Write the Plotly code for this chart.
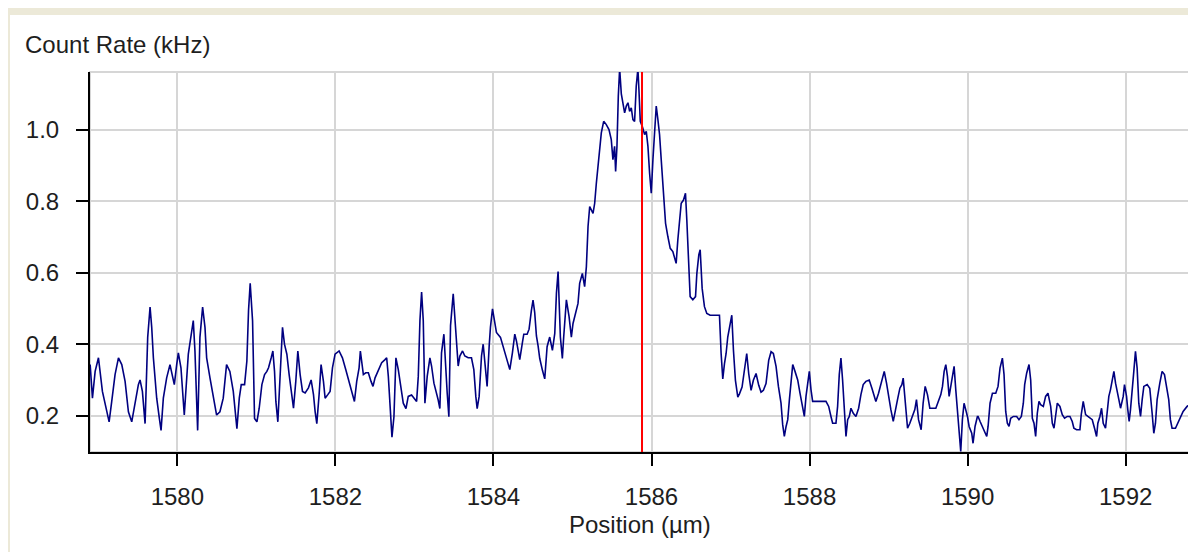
import plotly.graph_objects as go

# ---------------- data ----------------
position_um = [
    1578.897, 1578.926, 1578.960, 1579.002, 1579.052, 1579.107, 1579.137, 1579.170, 1579.212, 1579.255,
    1579.297, 1579.339, 1579.381, 1579.423, 1579.465, 1579.507, 1579.528, 1579.558, 1579.592, 1579.625,
    1579.655, 1579.676, 1579.697, 1579.739, 1579.773, 1579.794, 1579.823, 1579.865, 1579.907, 1579.928,
    1579.962, 1579.992, 1580.013, 1580.046, 1580.088, 1580.139, 1580.181, 1580.202, 1580.223, 1580.257,
    1580.286, 1580.320, 1580.350, 1580.371, 1580.413, 1580.455, 1580.497, 1580.539, 1580.581, 1580.623,
    1580.665, 1580.708,
    1580.754, 1580.784, 1580.809, 1580.851, 1580.880, 1580.901, 1580.922, 1580.952, 1580.977, 1581.007,
    1581.036, 1581.070, 1581.104, 1581.133, 1581.154, 1581.188, 1581.209, 1581.230, 1581.247, 1581.272,
    1581.289, 1581.314, 1581.331, 1581.356, 1581.386, 1581.415, 1581.440, 1581.470, 1581.499, 1581.525,
    1581.554, 1581.584, 1581.617, 1581.659, 1581.693, 1581.723, 1581.744, 1581.765, 1581.794, 1581.819,
    1581.849, 1581.870, 1581.904, 1581.933, 1581.963, 1581.996, 1582.047, 1582.089, 1582.131, 1582.173,
    1582.207, 1582.241, 1582.270, 1582.300, 1582.316, 1582.333, 1582.354, 1582.384, 1582.417, 1582.451,
    1582.476, 1582.502, 1582.535, 1582.586, 1582.628,
    1582.649, 1582.670, 1582.699, 1582.716, 1582.741, 1582.766, 1582.796, 1582.825, 1582.859, 1582.893,
    1582.922, 1582.964, 1583.006, 1583.028, 1583.049, 1583.070, 1583.091, 1583.112, 1583.133, 1583.162,
    1583.196, 1583.217, 1583.247, 1583.272, 1583.301, 1583.322, 1583.343, 1583.373, 1583.398, 1583.415,
    1583.436, 1583.457, 1583.491, 1583.512, 1583.533, 1583.554, 1583.575, 1583.609, 1583.638, 1583.680,
    1583.722, 1583.752, 1583.777, 1583.794, 1583.819, 1583.849, 1583.870, 1583.891, 1583.920, 1583.946,
    1583.962, 1583.988, 1584.004, 1584.038, 1584.089, 1584.122, 1584.156, 1584.186, 1584.207, 1584.240,
    1584.270, 1584.291, 1584.312, 1584.333, 1584.367, 1584.384, 1584.426, 1584.451, 1584.480, 1584.501,
    1584.522, 1584.544, 1584.565,
    1584.586, 1584.620, 1584.649, 1584.679, 1584.712, 1584.746, 1584.776, 1584.797, 1584.818, 1584.847,
    1584.872, 1584.889, 1584.923, 1584.957, 1584.986, 1585.007, 1585.041, 1585.070, 1585.091, 1585.125,
    1585.154, 1585.176, 1585.197, 1585.218, 1585.260, 1585.281, 1585.302, 1585.336, 1585.365, 1585.395,
    1585.428, 1585.462, 1585.491, 1585.512, 1585.533, 1585.546, 1585.563, 1585.580, 1585.597, 1585.618,
    1585.639, 1585.660, 1585.681, 1585.702, 1585.723, 1585.744, 1585.765, 1585.786, 1585.807, 1585.828,
    1585.841, 1585.858, 1585.883, 1585.913, 1585.934, 1585.955, 1585.976, 1585.997, 1586.018, 1586.039,
    1586.060, 1586.081, 1586.102, 1586.123, 1586.152, 1586.178, 1586.207, 1586.237, 1586.270, 1586.291,
    1586.312, 1586.333, 1586.355, 1586.376, 1586.405, 1586.430, 1586.447, 1586.472, 1586.489, 1586.523,
    1586.557, 1586.574, 1586.599, 1586.616, 1586.641, 1586.670, 1586.700, 1586.742, 1586.797, 1586.860,
    1586.881, 1586.902, 1586.923, 1586.944, 1586.965, 1586.995, 1587.016, 1587.037, 1587.062, 1587.092,
    1587.113, 1587.146, 1587.176, 1587.205, 1587.230, 1587.260, 1587.289, 1587.323, 1587.357, 1587.386,
    1587.416, 1587.449, 1587.483, 1587.513, 1587.542,
    1587.555, 1587.576, 1587.606, 1587.639, 1587.660, 1587.681, 1587.703, 1587.724, 1587.745, 1587.766,
    1587.787, 1587.816, 1587.850, 1587.879, 1587.905, 1587.934, 1587.955, 1587.976, 1587.997, 1588.018,
    1588.039, 1588.208, 1588.242, 1588.271, 1588.292, 1588.334, 1588.355, 1588.376, 1588.397, 1588.418,
    1588.439, 1588.461, 1588.482, 1588.503, 1588.524, 1588.553, 1588.587, 1588.621, 1588.650, 1588.679,
    1588.713, 1588.755, 1588.789, 1588.818, 1588.839, 1588.873, 1588.903, 1588.924, 1588.945, 1588.974,
    1589.000, 1589.029, 1589.059, 1589.084, 1589.113, 1589.143, 1589.168, 1589.185, 1589.202, 1589.219,
    1589.240, 1589.269, 1589.303, 1589.332, 1589.353, 1589.379, 1589.395, 1589.412, 1589.437, 1589.463,
    1589.492, 1589.522, 1589.598, 1589.631, 1589.661, 1589.682, 1589.703, 1589.724, 1589.745, 1589.766,
    1589.787, 1589.808, 1589.829, 1589.850, 1589.871, 1589.892, 1589.913, 1589.934, 1589.955, 1589.976,
    1589.998, 1590.019, 1590.052, 1590.069, 1590.094, 1590.124,
    1590.133, 1590.158, 1590.187, 1590.217, 1590.242, 1590.259, 1590.284, 1590.314, 1590.356, 1590.385,
    1590.410, 1590.440, 1590.461, 1590.482, 1590.503, 1590.524, 1590.545, 1590.579, 1590.621, 1590.650,
    1590.680, 1590.705, 1590.722, 1590.747, 1590.777, 1590.798, 1590.819, 1590.840, 1590.861, 1590.882,
    1590.903, 1590.924, 1590.958, 1590.987, 1591.017, 1591.051, 1591.072, 1591.093, 1591.114, 1591.135,
    1591.168, 1591.198, 1591.227, 1591.261, 1591.295, 1591.324, 1591.345, 1591.379, 1591.421, 1591.438,
    1591.463, 1591.493, 1591.522, 1591.547, 1591.577, 1591.606, 1591.632, 1591.648, 1591.674, 1591.695,
    1591.716, 1591.745, 1591.766, 1591.787, 1591.808, 1591.830, 1591.851, 1591.872, 1591.893, 1591.914,
    1591.935, 1591.969, 1591.985, 1592.011, 1592.027, 1592.044, 1592.061, 1592.086, 1592.103, 1592.124,
    1592.145, 1592.166, 1592.188, 1592.209, 1592.230, 1592.272, 1592.305, 1592.335, 1592.356, 1592.377,
    1592.398, 1592.432, 1592.461, 1592.491, 1592.516, 1592.545, 1592.566, 1592.587, 1592.630, 1592.659,
    1592.693, 1592.727, 1592.777, 1592.828,
]

count_rate_khz = [
    0.343, 0.249, 0.324, 0.362, 0.268, 0.211, 0.183, 0.240, 0.315, 0.362,
    0.343, 0.296, 0.211, 0.183, 0.240, 0.287, 0.300, 0.268, 0.178, 0.419,
    0.504, 0.447, 0.362, 0.249, 0.192, 0.159, 0.249, 0.306, 0.343, 0.324,
    0.287, 0.343, 0.376, 0.334, 0.202, 0.372, 0.438, 0.466, 0.381, 0.159,
    0.419, 0.504, 0.447, 0.362, 0.306, 0.249, 0.202, 0.211, 0.249, 0.343,
    0.324, 0.268,
    0.164, 0.249, 0.287, 0.287, 0.353, 0.494, 0.570, 0.466, 0.192, 0.183,
    0.221, 0.287, 0.315, 0.324, 0.334, 0.362, 0.381, 0.324, 0.240, 0.183,
    0.249, 0.381, 0.447, 0.400, 0.372, 0.315, 0.268, 0.221, 0.296, 0.381,
    0.315, 0.268, 0.264, 0.278, 0.300, 0.259, 0.211, 0.178, 0.259, 0.343,
    0.296, 0.249, 0.259, 0.268, 0.334, 0.372, 0.381, 0.362, 0.329, 0.296,
    0.268, 0.240, 0.296, 0.334, 0.381, 0.353, 0.315, 0.320, 0.320, 0.296,
    0.282, 0.306, 0.324, 0.348, 0.357,
    0.362, 0.310, 0.197, 0.140, 0.197, 0.362, 0.329, 0.282, 0.235, 0.220,
    0.254, 0.258, 0.244, 0.240, 0.310, 0.466, 0.546, 0.466, 0.235, 0.310,
    0.362, 0.339, 0.291, 0.272, 0.244, 0.220, 0.376, 0.428, 0.310, 0.263,
    0.197, 0.452, 0.541, 0.471, 0.386, 0.339, 0.367, 0.381, 0.367, 0.362,
    0.362, 0.329, 0.254, 0.220, 0.254, 0.367, 0.400, 0.339, 0.282, 0.395,
    0.447, 0.499, 0.475, 0.433, 0.419, 0.395, 0.367, 0.348, 0.329, 0.376,
    0.428, 0.409, 0.381, 0.357, 0.405, 0.428, 0.428, 0.442, 0.494, 0.523,
    0.489, 0.423, 0.395,
    0.360, 0.327, 0.303, 0.393, 0.420, 0.383, 0.430, 0.542, 0.603, 0.420,
    0.360, 0.420, 0.524, 0.477, 0.420, 0.458, 0.486, 0.514, 0.570, 0.598,
    0.561, 0.617, 0.729, 0.785, 0.766, 0.794, 0.850, 0.920, 0.991, 1.023,
    1.014, 1.000, 0.972, 0.916, 0.953, 0.883, 0.953, 1.094, 1.170, 1.100,
    1.075, 1.047, 1.066, 1.075, 1.051, 1.061, 1.028, 1.023, 1.122, 1.170,
    1.112, 1.023, 1.009, 0.986, 0.995, 0.953, 0.878, 0.822, 0.916, 1.000,
    1.066, 1.028, 0.986, 0.916, 0.813, 0.738, 0.701, 0.668, 0.659, 0.645,
    0.626, 0.691, 0.738, 0.794, 0.803, 0.822, 0.747, 0.608, 0.533, 0.524,
    0.533, 0.598, 0.650, 0.664, 0.556, 0.505, 0.486, 0.481, 0.481, 0.481,
    0.374, 0.303, 0.345, 0.374, 0.420, 0.458, 0.481, 0.383, 0.299, 0.252,
    0.261, 0.280, 0.336, 0.374, 0.318, 0.271, 0.299, 0.318, 0.285, 0.266,
    0.271, 0.290, 0.355, 0.379, 0.374,
    0.361, 0.338, 0.282, 0.235, 0.175, 0.142, 0.170, 0.189, 0.245, 0.305,
    0.343, 0.324, 0.300, 0.263, 0.226, 0.198, 0.254, 0.296, 0.324, 0.273,
    0.240, 0.240, 0.226, 0.198, 0.179, 0.179, 0.226, 0.315, 0.361, 0.300,
    0.217, 0.142, 0.189, 0.198, 0.221, 0.207, 0.198, 0.221, 0.259, 0.287,
    0.296, 0.300, 0.277, 0.254, 0.240, 0.263, 0.287, 0.305, 0.324, 0.291,
    0.254, 0.217, 0.184, 0.217, 0.245, 0.277, 0.287, 0.305, 0.254, 0.207,
    0.165, 0.179, 0.198, 0.217, 0.245, 0.189, 0.175, 0.161, 0.235, 0.282,
    0.259, 0.221, 0.221, 0.240, 0.259, 0.282, 0.324, 0.343, 0.310, 0.254,
    0.282, 0.310, 0.338, 0.273, 0.207, 0.151, 0.100, 0.189, 0.235, 0.217,
    0.198, 0.170, 0.151, 0.123, 0.170, 0.198,
    0.198, 0.184, 0.170, 0.151, 0.142, 0.170, 0.235, 0.263, 0.263, 0.282,
    0.333, 0.361, 0.315, 0.212, 0.179, 0.170, 0.193, 0.198, 0.198, 0.189,
    0.198, 0.235, 0.287, 0.319, 0.343, 0.300, 0.193, 0.179, 0.142, 0.207,
    0.240, 0.231, 0.226, 0.254, 0.263, 0.226, 0.179, 0.165, 0.207, 0.235,
    0.226, 0.203, 0.193, 0.198, 0.198, 0.184, 0.165, 0.161, 0.161, 0.203,
    0.240, 0.203, 0.198, 0.193, 0.189, 0.165, 0.142, 0.179, 0.198, 0.221,
    0.179, 0.165, 0.207, 0.254, 0.273, 0.296, 0.324, 0.291, 0.263, 0.245,
    0.221, 0.254, 0.287, 0.254, 0.217, 0.184, 0.217, 0.273, 0.324, 0.380,
    0.333, 0.235, 0.198, 0.245, 0.282, 0.287, 0.277, 0.207, 0.151, 0.179,
    0.245, 0.291, 0.324, 0.315, 0.282, 0.245, 0.189, 0.165, 0.165, 0.179,
    0.198, 0.212, 0.226, 0.235,
]

cursor_position_um = 1585.88

x_ticks = [1580, 1582, 1584, 1586, 1588, 1590, 1592]
y_ticks = [0.2, 0.4, 0.6, 0.8, 1.0]
x_range = [1578.895, 1592.852]
y_range = [0.0986, 1.161]

y_title = "Count Rate (kHz)"
x_title = "Position (µm)"

# ---------------- figure ----------------
FONT = "Liberation Sans, Arial, sans-serif"
TXT = "#1e1e1e"
GRID = "#d6d6d6"
BEIGE = "#ECE9D8"

OFF = 8                      # page body margin
W, H = 1196 - OFF, 552 - OFF
# plot area in page pixels: x 90..1193, y 72..452
L, R, T, B = 90 - OFF, 1196 - 1193, 72 - OFF, 552 - 452
pw, ph = W - L - R, H - T - B


def px_x(page_px):
    return (page_px - OFF - L) / pw


def px_y(page_py):
    return (H - B - (page_py - OFF)) / ph


fig = go.Figure()
fig.add_trace(go.Scatter(
    x=position_um, y=count_rate_khz, mode="lines",
    line=dict(color="#000080", width=1.6),
    showlegend=False, hoverinfo="x+y",
))

shapes = [
    # window frame strips (beige)
    dict(type="rect", xref="paper", yref="paper", layer="below",
         x0=px_x(0), x1=px_x(10), y0=px_y(560), y1=px_y(8),
         fillcolor=BEIGE, line=dict(width=0)),
    dict(type="rect", xref="paper", yref="paper", layer="below",
         x0=px_x(0), x1=px_x(1200), y0=px_y(15), y1=px_y(8),
         fillcolor=BEIGE, line=dict(width=0)),
    # plot frame (top/right in grid colour)
    dict(type="rect", xref="paper", yref="paper", layer="below",
         x0=0, x1=1, y0=0, y1=1, line=dict(color=GRID, width=2)),
    # cursor line
    dict(type="line", xref="x", yref="paper", x0=cursor_position_um, x1=cursor_position_um,
         y0=0, y1=1, line=dict(color="#ff0000", width=2), layer="above"),
]

annotations = [
    dict(text=y_title, xref="paper", yref="paper", x=px_x(23), y=px_y(45),
         xanchor="left", yanchor="middle", showarrow=False,
         font=dict(family=FONT, size=24, color=TXT)),
    dict(text=x_title, xref="paper", yref="paper", x=px_x(640), y=px_y(524),
         xanchor="center", yanchor="middle", showarrow=False,
         font=dict(family=FONT, size=24, color=TXT)),
]

fig.update_layout(
    width=W, height=H,
    margin=dict(l=L, r=R, t=T, b=B, pad=0),
    paper_bgcolor="white", plot_bgcolor="white",
    font=dict(family=FONT, size=24, color=TXT),
    shapes=shapes, annotations=annotations,
    xaxis=dict(range=x_range, tickvals=x_ticks, ticktext=[str(v) for v in x_ticks],
               showgrid=True, gridcolor=GRID, gridwidth=2, zeroline=False,
               showline=True, linecolor="black", linewidth=2,
               ticks="outside", ticklen=12, tickwidth=2, tickcolor="black",
               ticklabelstandoff=10, tickfont=dict(family=FONT, size=24, color=TXT)),
    yaxis=dict(range=y_range, tickvals=y_ticks, ticktext=[f"{v:.1f}" for v in y_ticks],
               showgrid=True, gridcolor=GRID, gridwidth=2, zeroline=False,
               showline=True, linecolor="black", linewidth=2,
               ticks="outside", ticklen=12, tickwidth=2, tickcolor="black",
               ticklabelstandoff=12, tickfont=dict(family=FONT, size=24, color=TXT)),
)

fig.write_html("out.html")
